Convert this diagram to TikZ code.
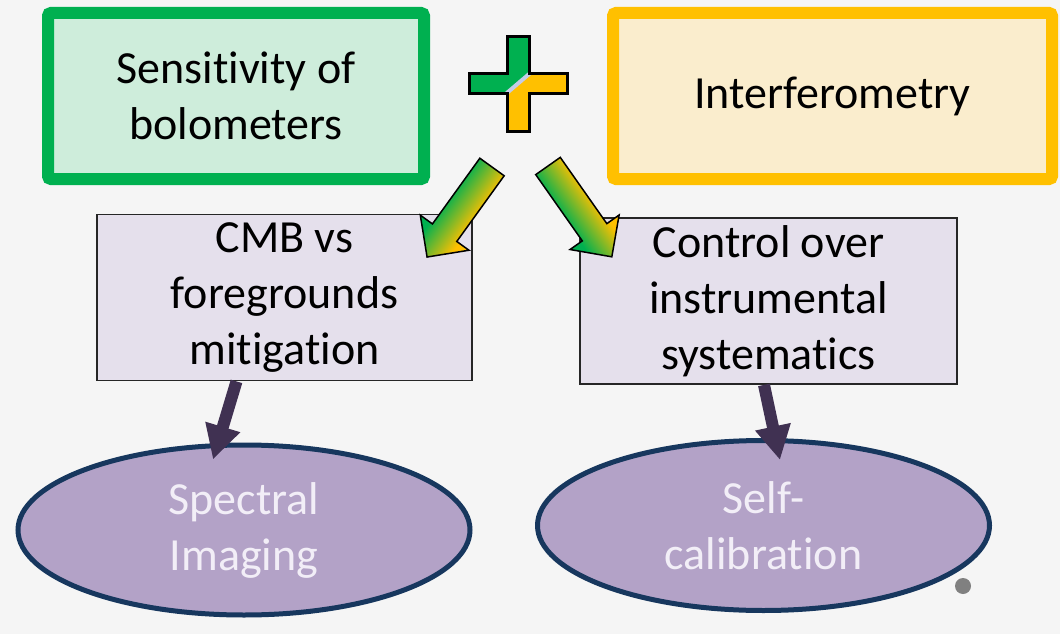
\documentclass[tikz,border=0pt]{standalone}
\usepackage{fontspec}
\setmainfont{Carlito}[Ligatures=NoCommon]
\usetikzlibrary{arrows.meta,calc,shapes.geometric}

\definecolor{bggray}{RGB}{245,245,245}
\definecolor{bolgreen}{RGB}{0,176,80}
\definecolor{bolfill}{RGB}{206,237,219}
\definecolor{intyellow}{RGB}{255,192,0}
\definecolor{intfill}{RGB}{250,237,205}
\definecolor{boxfill}{RGB}{229,224,236}
\definecolor{ellfill}{RGB}{179,162,199}
\definecolor{ellline}{RGB}{23,55,94}
\definecolor{elltext}{RGB}{242,238,247}
\definecolor{darkpurple}{RGB}{64,49,82}
\definecolor{streak}{RGB}{196,204,232}

\pgfdeclarehorizontalshading{greenyellow}{100bp}{color(0bp)=(bolgreen); color(40bp)=(bolgreen); color(60bp)=(intyellow); color(100bp)=(intyellow)}

\newcommand{\bigtext}{\fontsize{46}{56}\selectfont}
\newcommand{\plusshape}{(469,74) -- (507,74) -- (507,37) -- (529,37) -- (529,74) -- (567,74) -- (567,93) -- (529,93) -- (529,131) -- (507,131) -- (507,93) -- (469,93) -- cycle}
\newcommand{\blockarr}[3]{%
  \shade[blockarrow, shading angle=#3, shift={#1}, rotate=#2]
    (0,-15) -- (81,-15) -- (81,-30) -- (111,0) -- (81,30) -- (81,15) -- (0,15) -- cycle;}

\begin{document}
\begin{tikzpicture}[x=1pt,y=-1pt,
    topbox/.style={rectangle, rounded corners=3pt, line width=12pt, minimum height=166pt, align=center, font=\bigtext},
    midbox/.style={rectangle, draw=black!85, line width=1.8pt, fill=boxfill, minimum height=166pt, align=center, font=\bigtext},
    goal/.style={ellipse, draw=ellline, line width=5pt, fill=ellfill, minimum width=452pt, minimum height=170pt, align=center, font=\bigtext, text=elltext},
    leadsto/.style={line width=12pt, darkpurple, -{Triangle[length=34pt,width=34pt]}},
    blockarrow/.style={draw=black, line width=1.5pt, shading=greenyellow}]
  \useasboundingbox (0,0) rectangle (1060,634);
  \fill[bggray] (0,0) rectangle (1060,634);

  % Top boxes
  \node[topbox, draw=bolgreen, fill=bolfill, minimum width=376pt] (bolo) at (236,96) {Sensitivity of\\bolometers};
  \node[topbox, draw=intyellow, fill=intfill, minimum width=439pt] (inter) at (832.5,96) {Interferometry};

  % Plus sign
  \begin{scope}
    \clip \plusshape;
    \fill[bolgreen] (460,30) rectangle (575,140);
    \fill[intyellow] (573,36) -- (463,131) -- (575,140) -- cycle;
    \draw[streak, line width=4pt] (535,69) -- (501,98);
  \end{scope}
  \draw[line width=3pt, line join=miter] \plusshape;

  % Middle boxes
  \node[midbox, minimum width=375pt] (cmb) at (284.5,297.5) {CMB vs\\foregrounds\\mitigation};
  \node[midbox, minimum width=377pt] (ctrl) at (768.5,301) {Control over\\instrumental\\systematics};

  % Block arrows
  \blockarr{(492,167)}{-125.8}{-36}
  \blockarr{(548,166)}{-54.9}{35}

  % Goals
  \node[goal] (spec) at (244,530) {Spectral\\Imaging};
  \node[goal] (self) at (763.5,525.5) {Self-\\calibration};

  \draw[leadsto] ([xshift=-48pt]cmb.south) -- ([xshift=-31pt,yshift=-17pt]spec.north);
  \draw[leadsto] ([xshift=-4.5pt]ctrl.south) -- ([xshift=16.5pt,yshift=-22pt]self.north);

  \fill[gray] (963,586) circle (8pt);
\end{tikzpicture}
\end{document}
